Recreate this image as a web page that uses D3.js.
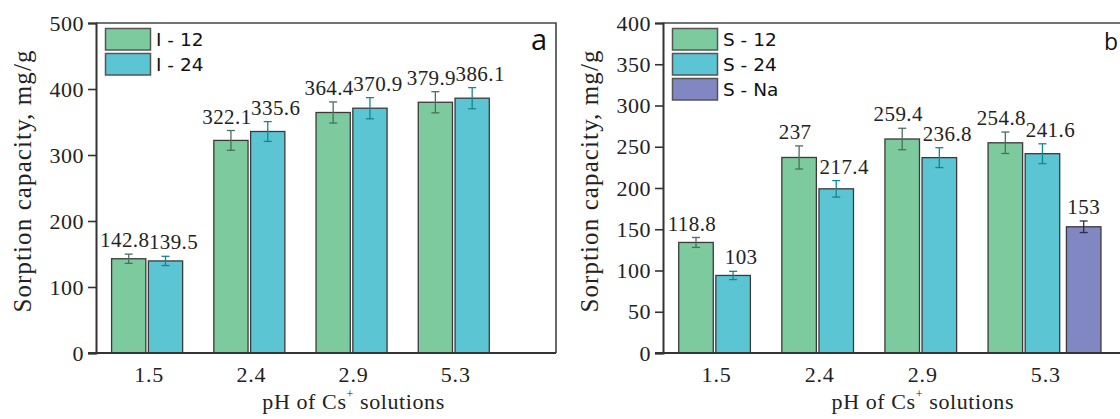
<!DOCTYPE html>
<html>
<head>
<meta charset="utf-8">
<script src="https://cdn.jsdelivr.net/npm/d3@7"></script>
<style>
  body { margin: 0; background: #fff; }
  svg { display: block; }
</style>
</head>
<body>
<div id="chart"></div>
<script>
// categories (pH)
var categories = ["1.5", "2.4", "2.9", "5.3"];

// panel a
var aNames = ["I - 12", "I - 24"];
var aI12 = [142.8, 322.1, 364.4, 379.9];
var aI12Err = [7, 15, 16, 16];
var aI24 = [139.5, 335.6, 370.9, 386.1];
var aI24Err = [7, 15, 16, 16];
var aTicks = [0, 100, 200, 300, 400, 500];

// panel b (bar heights as drawn, labels as printed)
var bNames = ["S - 12", "S - 24", "S - Na"];
var bS12 = [134, 237, 259.4, 254.8];
var bS12Err = [6, 14, 13, 13];
var bS12Labels = ["118.8", "237", "259.4", "254.8"];
var bS24 = [94, 199, 236.8, 241.6];
var bS24Err = [5, 10, 12, 12];
var bS24Labels = ["103", "217.4", "236.8", "241.6"];
var bSNa = [null, null, null, 153];
var bSNaErr = [null, null, null, 7];
var bSNaLabels = [null, null, null, "153"];
var bTicks = [0, 50, 100, 150, 200, 250, 300, 350, 400];

var colors = ["#7eca9f", "#5bc5d4", "#8087c3"];
var errColors = ["#4b6f5c", "#14868f", "#2c2c50"];
var labelShift = [-4, 8, 0];
var slotOffset = [-0.18, 0.18, 0.58];

var svg = d3.select("#chart").append("svg")
	.attr("width", 1120)
	.attr("height", 419);

var serif = "'Liberation Serif', 'Times New Roman', serif";
var sans = "'DejaVu Sans', Verdana, sans-serif";

function drawPanel(p) {
	var x = d3.scaleLinear().domain([0.5, 5]).range([p.left, p.right]);
	var y = d3.scaleLinear().domain([0, p.ymax]).range([353, 23]);
	var unit = x(1) - x(0);
	var bw = unit * 0.335;
	var g = svg.append("g");

	// bars, error bars, labels
	p.series.forEach(function(s, si) {
		s.values.forEach(function(v, i) {
			if (v == null) return;
			var cx = x(i + 1 + slotOffset[si]);
			g.append("rect")
				.attr("x", cx - bw / 2)
				.attr("y", y(v))
				.attr("width", bw)
				.attr("height", y(0) - y(v))
				.attr("fill", colors[si])
				.attr("stroke", "#3a3a3a")
				.attr("stroke-width", 1.3);
			var e = s.err[i];
			g.append("line")
				.attr("x1", cx).attr("x2", cx)
				.attr("y1", y(v + e)).attr("y2", y(v - e))
				.attr("stroke", errColors[si]).attr("stroke-width", 1.3);
			[v + e, v - e].forEach(function(t) {
				g.append("line")
					.attr("x1", cx - 4).attr("x2", cx + 4)
					.attr("y1", y(t)).attr("y2", y(t))
					.attr("stroke", errColors[si]).attr("stroke-width", 1.3);
			});
			g.append("text")
				.attr("x", cx + labelShift[si])
				.attr("y", y(v + e) - 7)
				.attr("text-anchor", "middle")
				.attr("font-family", serif)
				.attr("font-size", 21)
				.attr("letter-spacing", 0.4)
				.attr("fill", "#222")
				.text(s.labels[i]);
		});
	});

	// frame (top, right)
	g.append("path")
		.attr("d", "M" + x(0.5) + "," + y(p.ymax) + "H" + x(5) + "V" + y(0))
		.attr("fill", "none")
		.attr("stroke", "#444")
		.attr("stroke-width", 1.6);

	// y axis
	var yAxis = d3.axisLeft(y).tickValues(p.ticks).tickSize(8).tickPadding(4);
	var ya = g.append("g").attr("transform", "translate(" + p.left + ",0)").call(yAxis);
	ya.select(".domain").attr("stroke", "#333").attr("stroke-width", 2);
	ya.selectAll(".tick line").attr("stroke", "#333").attr("stroke-width", 1.6);
	ya.selectAll(".tick text")
		.attr("font-family", serif)
		.attr("font-size", 22)
		.attr("letter-spacing", 0.5)
		.attr("fill", "#222");

	// x axis (no ticks)
	g.append("line")
		.attr("x1", p.left - 8).attr("x2", p.right)
		.attr("y1", y(0)).attr("y2", y(0))
		.attr("stroke", "#333").attr("stroke-width", 2);

	categories.forEach(function(c, i) {
		var offs = [];
		p.series.forEach(function(s, si) { if (s.values[i] != null) offs.push(slotOffset[si]); });
		g.append("text")
			.attr("x", x(i + 1 + d3.mean(offs)) + 2)
			.attr("y", y(0) + 29)
			.attr("text-anchor", "middle")
			.attr("font-family", serif)
			.attr("font-size", 22)
			.attr("letter-spacing", 0.8)
			.attr("fill", "#222")
			.text(c);
	});

	// axis titles
	var xt = g.append("text")
		.attr("x", p.left + (p.right - p.left) * 0.56)
		.attr("y", 409)
		.attr("text-anchor", "middle")
		.attr("font-family", serif)
		.attr("font-size", 22)
		.attr("letter-spacing", 0.6)
		.attr("fill", "#222");
	xt.append("tspan").text("pH of Cs");
	xt.append("tspan").attr("dy", -11).attr("font-size", 12).text("+");
	xt.append("tspan").attr("dy", 11).text(" solutions");

	g.append("text")
		.attr("transform", "translate(" + (p.left - 65) + ",181) rotate(-90)")
		.attr("text-anchor", "middle")
		.attr("font-family", serif)
		.attr("font-size", 25)
		.attr("letter-spacing", 1.1)
		.attr("fill", "#222")
		.text("Sorption capacity, mg/g");

	// legend
	p.series.forEach(function(s, si) {
		var ly = 28.5 + si * 25;
		g.append("rect")
			.attr("x", p.left + 9.5).attr("y", ly)
			.attr("width", 45).attr("height", 21.5)
			.attr("fill", colors[si])
			.attr("stroke", "#555").attr("stroke-width", 1.5);
		g.append("text")
			.attr("x", p.left + 60).attr("y", ly + 17.5)
			.attr("font-family", sans)
			.attr("font-size", 18.5)
			.attr("fill", "#111")
			.text(s.name);
	});

	// panel letter
	g.append("text")
		.attr("x", p.right - 9)
		.attr("y", 49.5)
		.attr("text-anchor", "end")
		.attr("font-family", "'Open Sans', sans-serif")
		.attr("font-size", p.letterSize)
		.attr("fill", "#111")
		.text(p.letter);
}

drawPanel({
	left: 96, right: 556, ymax: 500, ticks: aTicks, letter: "a", letterSize: 29,
	series: [
		{ name: aNames[0], values: aI12, err: aI12Err, labels: aI12.map(String) },
		{ name: aNames[1], values: aI24, err: aI24Err, labels: aI24.map(String) }
	]
});

drawPanel({
	left: 663, right: 1127, ymax: 400, ticks: bTicks, letter: "b", letterSize: 23,
	series: [
		{ name: bNames[0], values: bS12, err: bS12Err, labels: bS12Labels },
		{ name: bNames[1], values: bS24, err: bS24Err, labels: bS24Labels },
		{ name: bNames[2], values: bSNa, err: bSNaErr, labels: bSNaLabels }
	]
});
</script>
</body>
</html>
